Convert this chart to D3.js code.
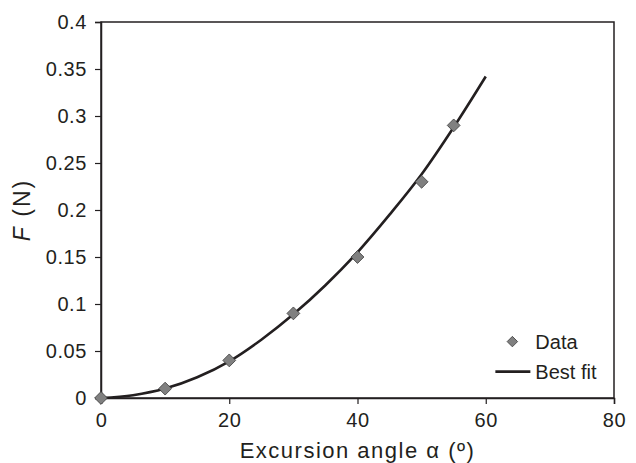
<!DOCTYPE html>
<html>
<head>
<meta charset="utf-8">
<script src="https://cdn.jsdelivr.net/npm/d3@7"></script>
<style>
  body { margin: 0; background: #fff; }
  text { font-family: "Liberation Sans", Arial, sans-serif; fill: #231f20; }
</style>
</head>
<body>
<svg id="plotSvg"></svg>
<script>
// measured data points
const dataAngle = [0, 10, 20, 30, 40, 50, 55];
const dataForce = [0, 0.01, 0.04, 0.09, 0.15, 0.23, 0.29];

// best fit curve
const fitAngle = [0, 5, 10, 15, 20, 25, 30, 35, 40, 45, 50, 55, 60];
const fitForce = [0, 0.003, 0.01, 0.022, 0.039, 0.062, 0.089, 0.12, 0.155, 0.195, 0.238, 0.288, 0.342];

const xTicks = [0, 20, 40, 60, 80];
const yTicks = [0, 0.05, 0.1, 0.15, 0.2, 0.25, 0.3, 0.35, 0.4];

const margin = { top: 22, right: 22, bottom: 65, left: 101 },
    width = 636 - margin.left - margin.right,
    height = 463 - margin.top - margin.bottom;

const svg = d3.select("#plotSvg")
    .attr("width", 636)
    .attr("height", 463)
    .append("g")
    .attr("transform", `translate(${margin.left},${margin.top})`);

const x = d3.scaleLinear().domain([0, 80]).range([0, width]);
const y = d3.scaleLinear().domain([0, 0.4]).range([height, 0]);

// frame
svg.append("rect")
    .attr("width", width)
    .attr("height", height)
    .attr("fill", "none")
    .attr("stroke", "#231f20")
    .attr("stroke-width", 1.5);

// axes
const xAxis = svg.append("g")
    .attr("transform", `translate(0,${height})`)
    .call(d3.axisBottom(x).tickValues(xTicks).tickFormat(d3.format("d")).tickSizeOuter(0).tickSize(6).tickPadding(9));
const yAxis = svg.append("g")
    .call(d3.axisLeft(y).tickValues(yTicks).tickFormat(d => d).tickSizeOuter(0).tickSize(6).tickPadding(8));

[xAxis, yAxis].forEach(a => {
    a.select(".domain").attr("stroke", "#231f20").attr("stroke-width", 1.5);
    a.selectAll(".tick line").attr("stroke", "#231f20").attr("stroke-width", 1.2);
    a.selectAll(".tick text").attr("font-size", 20).attr("fill", "#231f20")
        .style("letter-spacing", "0.6px")
        .style("font-family", "'Liberation Sans', Arial, sans-serif");
});

// fit line
const fit = fitAngle.map((a, i) => ({ a: a, f: fitForce[i] }));
svg.append("path")
    .datum(fit)
    .attr("fill", "none")
    .attr("stroke", "#231f20")
    .attr("stroke-width", 2.6)
    .attr("d", d3.line().x(d => x(d.a)).y(d => y(d.f)).curve(d3.curveMonotoneX));

// data diamonds
const diamond = d3.symbol().type(d3.symbolDiamond2).size(105);
const pts = dataAngle.map((a, i) => ({ a: a, f: dataForce[i] }));
svg.selectAll(".pt")
    .data(pts)
    .enter().append("path")
    .attr("class", "pt")
    .attr("transform", d => `translate(${x(d.a)},${y(d.f)})`)
    .attr("d", diamond)
    .attr("fill", "#808080")
    .attr("stroke", "#3a3a3a")
    .attr("stroke-width", 0.8);

// legend
const legend = svg.append("g").attr("transform", `translate(${x(61.5)},${y(0.06)})`);
legend.append("path")
    .attr("transform", "translate(17,0)")
    .attr("d", d3.symbol().type(d3.symbolDiamond2).size(70))
    .attr("fill", "#808080")
    .attr("stroke", "#3a3a3a")
    .attr("stroke-width", 0.8);
legend.append("text").attr("x", 40).attr("y", 7).attr("font-size", 20).text("Data");
legend.append("line")
    .attr("x1", 0).attr("x2", 35).attr("y1", 30).attr("y2", 30)
    .attr("stroke", "#231f20").attr("stroke-width", 2.6);
legend.append("text").attr("x", 40).attr("y", 37).attr("font-size", 20).text("Best fit");

// axis titles
svg.append("text")
    .attr("x", width / 2)
    .attr("y", height + 60)
    .attr("text-anchor", "middle")
    .attr("font-size", 22)
    .style("letter-spacing", "1.5px")
    .text("Excursion angle α (º)");

const yTitle = svg.append("text")
    .attr("transform", `translate(${-71},${height / 2}) rotate(-90)`)
    .attr("text-anchor", "middle")
    .attr("font-size", 23)
    .style("letter-spacing", "2px");
yTitle.append("tspan").attr("font-style", "italic").text("F");
yTitle.append("tspan").text(" (N)");
</script>
</body>
</html>
